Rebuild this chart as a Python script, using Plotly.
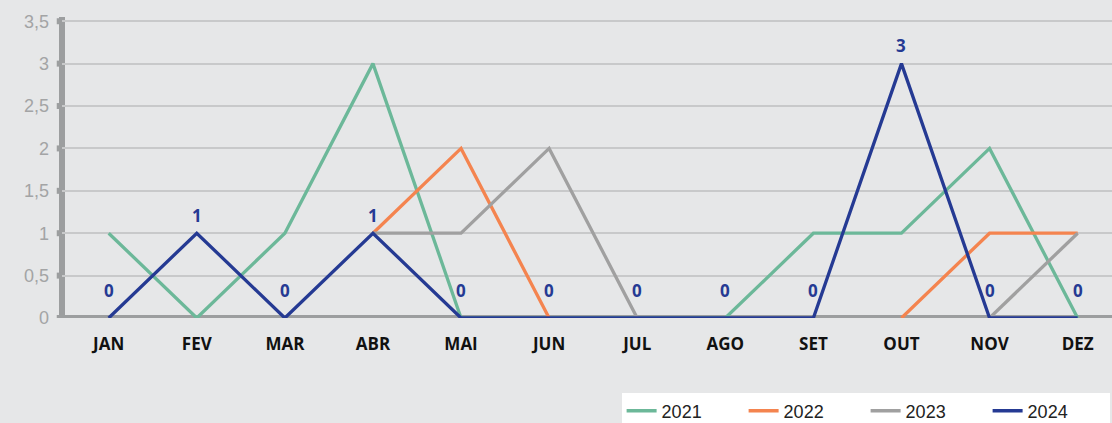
import plotly.graph_objects as go

months = ["JAN", "FEV", "MAR", "ABR", "MAI", "JUN", "JUL", "AGO", "SET", "OUT", "NOV", "DEZ"]
y2021 = [1, 0, 1, 3, 0, 0, 0, 0, 1, 1, 2, 0]
y2022 = [None, None, None, 1, 2, 0, None, None, None, 0, 1, 1]
y2023 = [None, None, None, 1, 1, 2, 0, None, None, None, 0, 1]
y2024 = [0, 1, 0, 1, 0, 0, 0, 0, 0, 3, 0, 0]
ytick_vals = [0, 0.5, 1, 1.5, 2, 2.5, 3, 3.5]
ytick_text = ["0", "0,5", "1", "1,5", "2", "2,5", "3", "3,5"]

series = [
    ("2021", y2021, "#6cb899"),
    ("2022", y2022, "#f4844f"),
    ("2023", y2023, "#a0a0a0"),
    ("2024", y2024, "#253a93"),
]

fig = go.Figure()
for name, ys, col in series:
    fig.add_trace(go.Scatter(
        x=months, y=ys, name=name, mode="lines",
        line=dict(color=col, width=3.3), connectgaps=False,
        cliponaxis=False,
    ))

for m, v in zip(months, y2024):
    fig.add_annotation(
        x=m, y=v, text=f"<b>{v}</b>", showarrow=False,
        yshift=28 if v == 0 else 18,
        font=dict(family="Open Sans", size=17, color="#253a93"),
    )

bg = "#e6e7e8"
fig.update_layout(
    width=1112, height=423,
    paper_bgcolor=bg, plot_bgcolor=bg,
    margin=dict(l=62, r=0, t=17, b=105, autoexpand=False),
    showlegend=True,
    legend=dict(
        orientation="h", xref="container", yref="container",
        x=0.559, xanchor="left", y=0.072, yanchor="top",
        bgcolor="white", font=dict(family="Liberation Sans", size=18, color="#222"),
        entrywidth=77, entrywidthmode="pixels",
        traceorder="normal",
    ),
    xaxis=dict(
        type="category", range=[-0.53, 11.39],
        showgrid=False, showline=False, zeroline=False,
        ticks="", tickfont=dict(family="Open Sans", size=17, color="#111"),
        tickprefix="<b>", ticksuffix="</b>",
        ticklabelstandoff=14,
    ),
    yaxis=dict(
        range=[0, 3.55], tickvals=ytick_vals, ticktext=ytick_text,
        showgrid=True, gridcolor="#c8c9ca", gridwidth=1.5,
        showline=False, zeroline=False,
        ticks="", tickfont=dict(family="Liberation Sans", size=18, color="#a3a4a5"),
        ticklabelstandoff=12,
    ),
)

axis_col = "#9c9e9f"
fig.add_shape(type="line", xref="paper", yref="y", x0=-0.004, x1=1, y0=0, y1=0,
              line=dict(color=axis_col, width=6), layer="below")
fig.add_shape(type="line", xref="paper", yref="paper", x0=0, x1=0, y0=0, y1=1,
              line=dict(color=axis_col, width=6), layer="below")
for v in ytick_vals:
    fig.add_shape(type="line", xref="paper", yref="y", x0=-0.005, x1=0, y0=v, y1=v,
                  line=dict(color=axis_col, width=6), layer="below")

fig.write_html("out.html", config={"displayModeBar": False},
               post_script="document.body.style.margin='0';")
